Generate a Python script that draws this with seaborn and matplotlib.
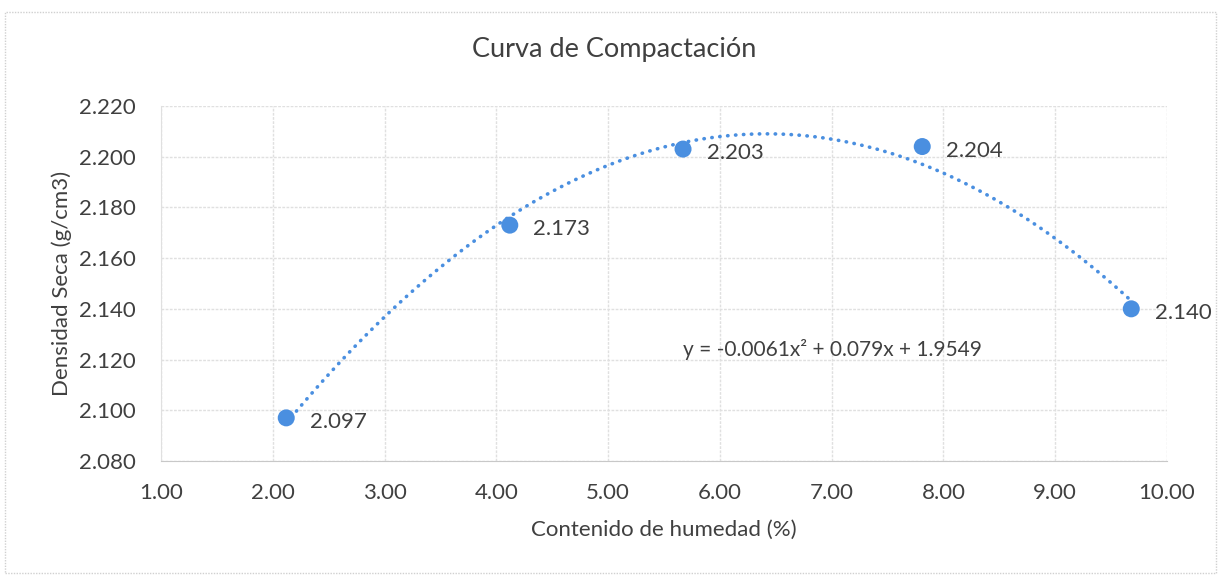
import matplotlib
matplotlib.use("Agg")
import matplotlib.pyplot as plt
import seaborn as sns
import pandas as pd
from matplotlib.ticker import MultipleLocator, FormatStrFormatter
from matplotlib.patches import Rectangle

# Data
humedad = [2.12, 4.12, 5.67, 7.81, 9.68]
densidad = [2.097, 2.173, 2.203, 2.204, 2.140]
etiquetas = ["2.097", "2.173", "2.203", "2.204", "2.140"]
titulo = "Curva de Compactación"
xlabel = "Contenido de humedad (%)"
ylabel = "Densidad Seca (g/cm3)"
ecuacion = "y = -0.0061x² + 0.079x + 1.9549"

df = pd.DataFrame({"x": humedad, "y": densidad})

sns.set_style("white")
plt.rcParams["font.family"] = ["Lato", "DejaVu Sans"]

blue = "#4A8FE0"
grid_c = "#E0E0E0"
text_c = "#404040"

fig = plt.figure(figsize=(12.21, 5.75), dpi=100)
ax = fig.add_axes([0.1319, 0.1983, 0.8239, 0.6174])

sns.regplot(data=df, x="x", y="y", order=2, ci=None, scatter=False, truncate=True,
            ax=ax, line_kws=dict(color="#4A8FE0", lw=2.6, ls=(0, (0.1, 2.1)),
                                 dash_capstyle="round", zorder=2))
sns.scatterplot(data=df, x="x", y="y", ax=ax, color=blue, s=150, edgecolor="none", zorder=3)

for xv, yv, lab in zip(humedad, densidad, etiquetas):
    ax.annotate(lab, (xv, yv), xytext=(17, -3), textcoords="offset points",
                ha="left", va="center", fontsize=16, color=text_c)

ax.text(5.67, 2.1238, ecuacion, ha="left", va="center", fontsize=15, color=text_c)

ax.set_xlim(1.0, 10.0)
ax.set_ylim(2.08, 2.22)
ax.xaxis.set_major_locator(MultipleLocator(1.0))
ax.xaxis.set_minor_locator(MultipleLocator(0.1))
ax.yaxis.set_major_locator(MultipleLocator(0.02))
ax.yaxis.set_minor_locator(MultipleLocator(0.004))
ax.xaxis.set_major_formatter(FormatStrFormatter("%.2f"))
ax.yaxis.set_major_formatter(FormatStrFormatter("%.3f"))

ax.grid(True, which="major", color=grid_c, lw=1.0, ls=(0, (2, 1)))
ax.tick_params(axis="x", which="major", labelsize=16, labelcolor=text_c,
               length=0, pad=16, direction="in")
ax.tick_params(axis="y", which="major", labelsize=16, labelcolor=text_c,
               length=0, pad=18, direction="in")
ax.tick_params(axis="both", which="minor", length=4, color="#C0C0C0", width=0.9,
               direction="in")
for sp in ax.spines.values():
    sp.set_visible(False)
ax.spines["bottom"].set_visible(True)
ax.spines["left"].set_visible(True)
ax.spines["bottom"].set_color("#C8C8C8")
ax.spines["left"].set_color(grid_c)

ax.set_xlabel(xlabel, fontsize=16, color=text_c, labelpad=12)
ax.set_ylabel(ylabel, fontsize=16, color=text_c, labelpad=5)
fig.text(0.503, 0.9135, titulo, ha="center", va="center", fontsize=19.5, color=text_c)

fig.patches.append(Rectangle((0.004, 0.004), 0.992, 0.975, transform=fig.transFigure,
                             fill=False, edgecolor="#D0D0D0", lw=1.0, ls=(0, (1, 1))))

fig.savefig("out.png", dpi=100, facecolor="white")
